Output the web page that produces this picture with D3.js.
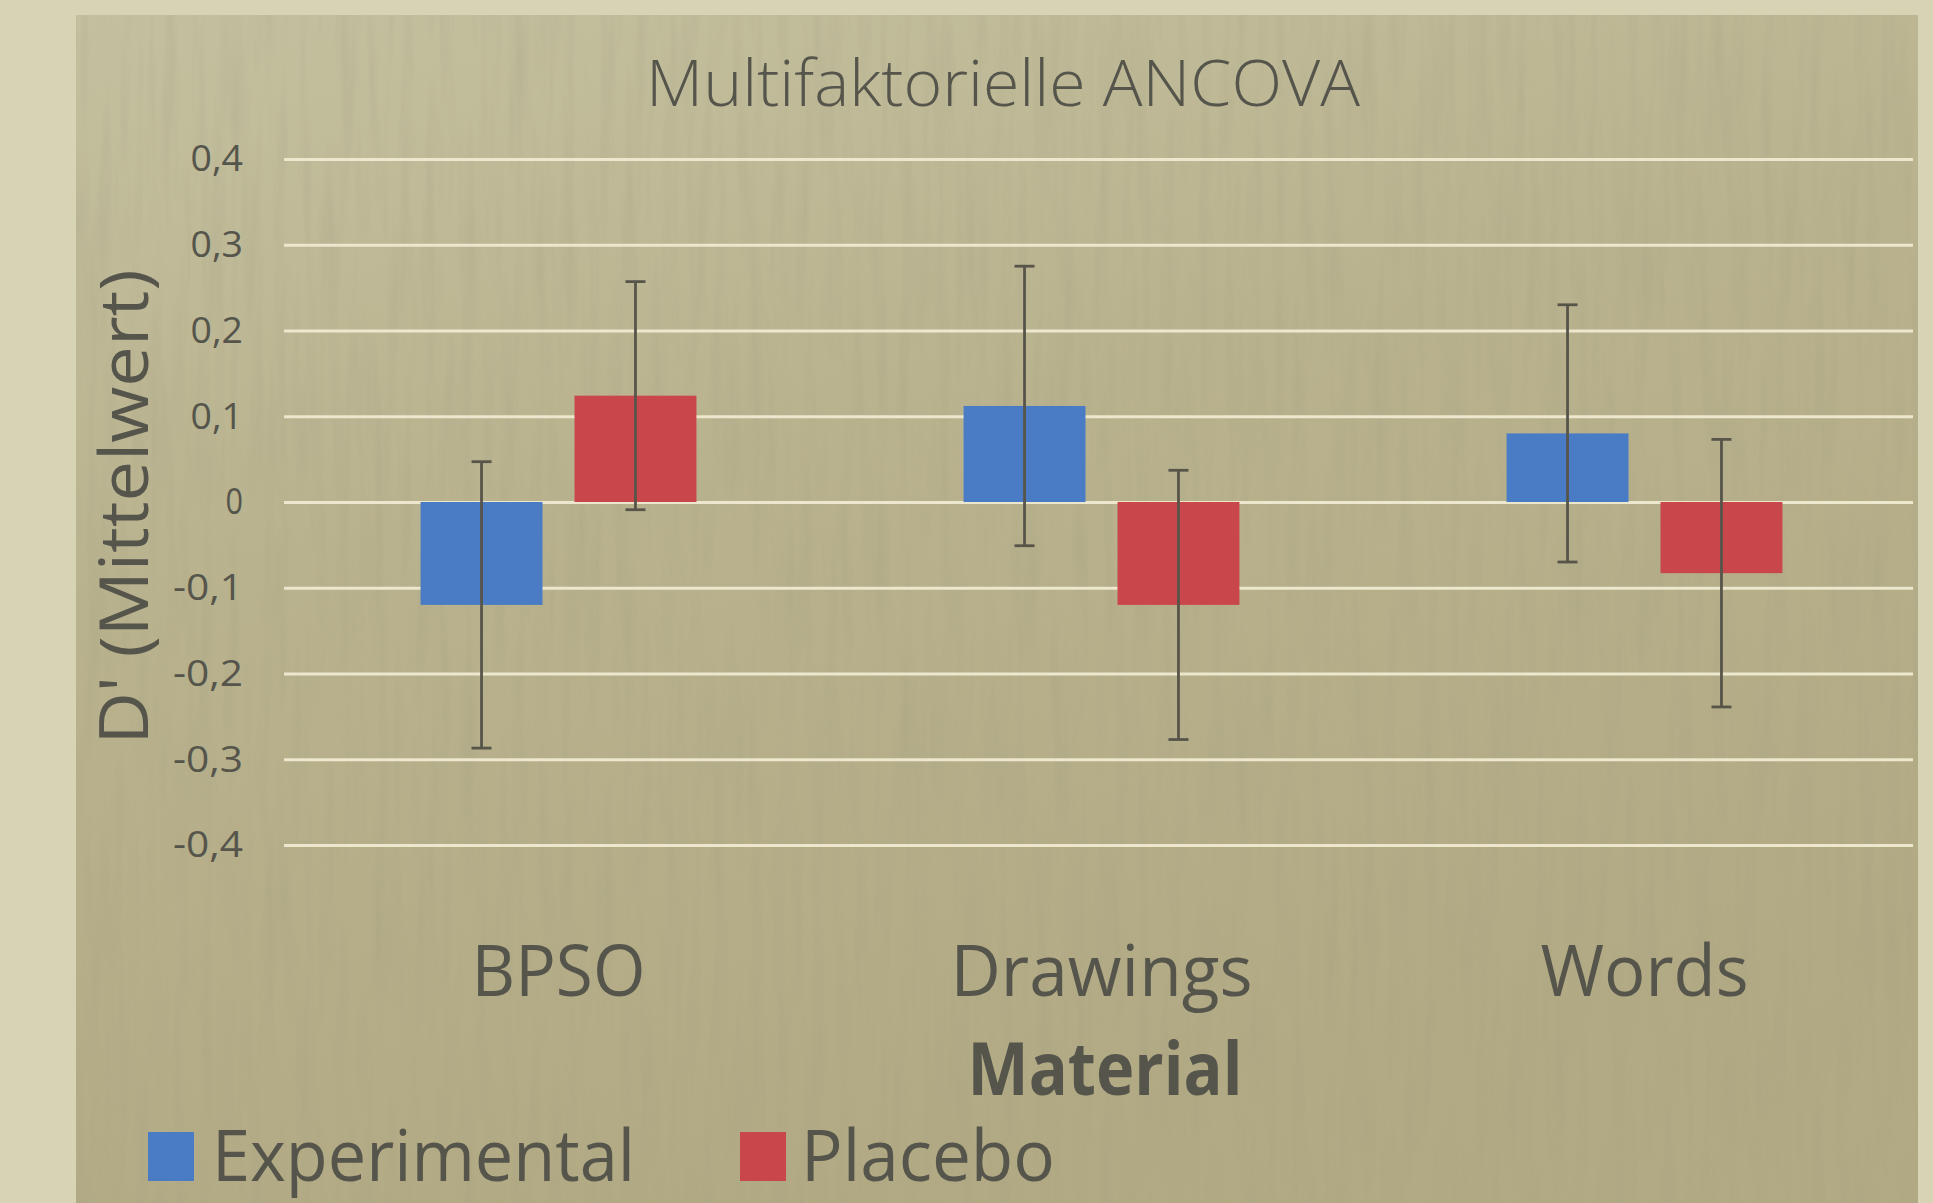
<!DOCTYPE html>
<html>
<head>
<meta charset="utf-8">
<script src="https://cdn.jsdelivr.net/npm/d3@7"></script>
<style>
  html, body { margin: 0; padding: 0; background: #d6d2b3; }
  svg { display: block; }
  text { font-family: "Open Sans", "Noto Sans", sans-serif; fill: #55554c; }
</style>
</head>
<body>
<svg id="chart" width="1933" height="1203"></svg>
<script>
// Material categories and the two groups
const categories = ["BPSO", "Drawings", "Words"];
const seriesNames = ["Experimental", "Placebo"];

// Mean D' per material
const experimentalMeans = [-0.12, 0.112, 0.08];
const placeboMeans = [0.124, -0.12, -0.083];

// Error bar half-widths
const experimentalErrors = [0.167, 0.163, 0.15];
const placeboErrors = [0.133, 0.157, 0.156];

// Y axis ticks and their German-style labels
const yTicks = [0.4, 0.3, 0.2, 0.1, 0, -0.1, -0.2, -0.3, -0.4];
const yTickLabels = ["0,4", "0,3", "0,2", "0,1", "0", "-0,1", "-0,2", "-0,3", "-0,4"];

const seriesColors = ["#4a7cc6", "#c9464b"];

const svg = d3.select("#chart");
const W = 1933, H = 1203;

// ---- background: light frame with a textured khaki panel ----
const defs = svg.append("defs");
const grad = defs.append("linearGradient").attr("id", "panelGrad")
  .attr("x1", 0).attr("y1", 0).attr("x2", 0.35).attr("y2", 1);
grad.append("stop").attr("offset", "0%").attr("stop-color", "#c4c09f");
grad.append("stop").attr("offset", "45%").attr("stop-color", "#b9b28e");
grad.append("stop").attr("offset", "100%").attr("stop-color", "#b2aa84");

const noise = defs.append("filter").attr("id", "grain")
  .attr("x", 0).attr("y", 0).attr("width", "100%").attr("height", "100%");
noise.append("feTurbulence").attr("type", "fractalNoise")
  .attr("baseFrequency", "0.08 0.006").attr("numOctaves", 3).attr("seed", 7).attr("result", "n");
noise.append("feColorMatrix").attr("in", "n").attr("type", "matrix")
  .attr("values", "0 0 0 0 0.35  0 0 0 0 0.33  0 0 0 0 0.22  0 0 0 0.9 -0.38");

svg.append("rect").attr("width", W).attr("height", H).attr("fill", "#d7d3b5");
const panel = { x: 76, y: 15, w: 1842, h: H - 15 };
svg.append("rect").attr("x", panel.x).attr("y", panel.y)
  .attr("width", panel.w).attr("height", panel.h).attr("fill", "url(#panelGrad)");
svg.append("rect").attr("x", panel.x).attr("y", panel.y)
  .attr("width", panel.w).attr("height", panel.h).attr("filter", "url(#grain)")
  .attr("fill", "#000").attr("opacity", 0.5);

// ---- scales ----
const plotLeft = 284, plotRight = 1913;
const y = d3.scaleLinear().domain([-0.4, 0.4]).range([845, 159]);

const x0 = d3.scaleBand().domain(categories).range([plotLeft + 3, plotRight + 3])
  .paddingInner(0.492).paddingOuter(0.246);
const x1 = d3.scaleBand().domain(seriesNames).range([0, x0.bandwidth()])
  .paddingInner(0.208).paddingOuter(0);

// ---- gridlines ----
const yAxis = d3.axisLeft(y).tickValues(yTicks)
  .tickSize(-(plotRight - plotLeft)).tickPadding(41)
  .tickFormat((d, i) => yTickLabels[i]);
const gy = svg.append("g").attr("transform", `translate(${plotLeft},0)`).call(yAxis);
gy.select(".domain").remove();
gy.selectAll(".tick line").attr("stroke", "#ece7cd").attr("stroke-width", 3);
gy.selectAll(".tick text").attr("font-size", 37).attr("fill", "#5d5d52")
  .attr("font-family", "'Open Sans', sans-serif")
  .attr("textLength", (d, i) => yTickLabels[i].length * 17.5)
  .attr("lengthAdjust", "spacingAndGlyphs");

// ---- bars ----
const rows = categories.map((c, i) => ({
  category: c,
  values: [
    { series: seriesNames[0], value: experimentalMeans[i], err: experimentalErrors[i] },
    { series: seriesNames[1], value: placeboMeans[i], err: placeboErrors[i] }
  ]
}));
const color = d3.scaleOrdinal().domain(seriesNames).range(seriesColors);

const groups = svg.append("g").selectAll("g").data(rows).join("g")
  .attr("transform", d => `translate(${x0(d.category)},0)`);

groups.selectAll("rect").data(d => d.values).join("rect")
  .attr("x", d => x1(d.series))
  .attr("width", x1.bandwidth())
  .attr("y", d => y(Math.max(0, d.value)))
  .attr("height", d => Math.abs(y(d.value) - y(0)))
  .attr("fill", d => color(d.series));

// ---- error bars ----
const capHalf = 10;
const eb = groups.selectAll("g.err").data(d => d.values).join("g").attr("class", "err")
  .attr("stroke", "#57554a").attr("stroke-width", 2.8);
eb.append("line")
  .attr("x1", d => x1(d.series) + x1.bandwidth() / 2)
  .attr("x2", d => x1(d.series) + x1.bandwidth() / 2)
  .attr("y1", d => y(d.value + d.err)).attr("y2", d => y(d.value - d.err));
eb.append("line")
  .attr("x1", d => x1(d.series) + x1.bandwidth() / 2 - capHalf)
  .attr("x2", d => x1(d.series) + x1.bandwidth() / 2 + capHalf)
  .attr("y1", d => y(d.value + d.err)).attr("y2", d => y(d.value + d.err));
eb.append("line")
  .attr("x1", d => x1(d.series) + x1.bandwidth() / 2 - capHalf)
  .attr("x2", d => x1(d.series) + x1.bandwidth() / 2 + capHalf)
  .attr("y1", d => y(d.value - d.err)).attr("y2", d => y(d.value - d.err));

// ---- category axis labels ----
const catWidths = { "BPSO": 174, "Drawings": 302, "Words": 208 };
svg.append("g").selectAll("text").data(categories).join("text")
  .attr("x", d => x0(d) + x0.bandwidth() / 2)
  .attr("y", 996)
  .attr("text-anchor", "middle")
  .attr("font-size", 72)
  .attr("textLength", d => catWidths[d]).attr("lengthAdjust", "spacingAndGlyphs")
  .attr("fill", "#57574e")
  .text(d => d);

// ---- titles ----
svg.append("text").attr("x", 1003).attr("y", 106).attr("text-anchor", "middle")
  .attr("font-size", 64).attr("font-weight", 300).attr("fill", "#5a5a52")
  .attr("textLength", 714).attr("lengthAdjust", "spacingAndGlyphs")
  .text("Multifaktorielle ANCOVA");

svg.append("text").attr("x", 1105).attr("y", 1095).attr("text-anchor", "middle")
  .attr("font-size", 74).attr("font-weight", 700).attr("fill", "#55554d")
  .attr("textLength", 275).attr("lengthAdjust", "spacingAndGlyphs")
  .text("Material");

svg.append("text")
  .attr("transform", `translate(148,507) rotate(-90)`)
  .attr("text-anchor", "middle")
  .attr("font-size", 68).attr("fill", "#58584f")
  .attr("textLength", 475).attr("lengthAdjust", "spacingAndGlyphs")
  .text("D' (Mittelwert)");

// ---- legend ----
const legendItems = [
  { name: seriesNames[0], sx: 148, tx: 212, tw: 423 },
  { name: seriesNames[1], sx: 740, tx: 801, tw: 254 }
];
const lg = svg.append("g").selectAll("g").data(legendItems).join("g");
lg.append("rect").attr("x", d => d.sx).attr("y", 1132).attr("width", 46).attr("height", 49)
  .attr("fill", d => color(d.name));
lg.append("text").attr("x", d => d.tx).attr("y", 1181)
  .attr("font-size", 72).attr("fill", "#56564d")
  .attr("textLength", d => d.tw).attr("lengthAdjust", "spacingAndGlyphs")
  .text(d => d.name);
</script>
</body>
</html>
